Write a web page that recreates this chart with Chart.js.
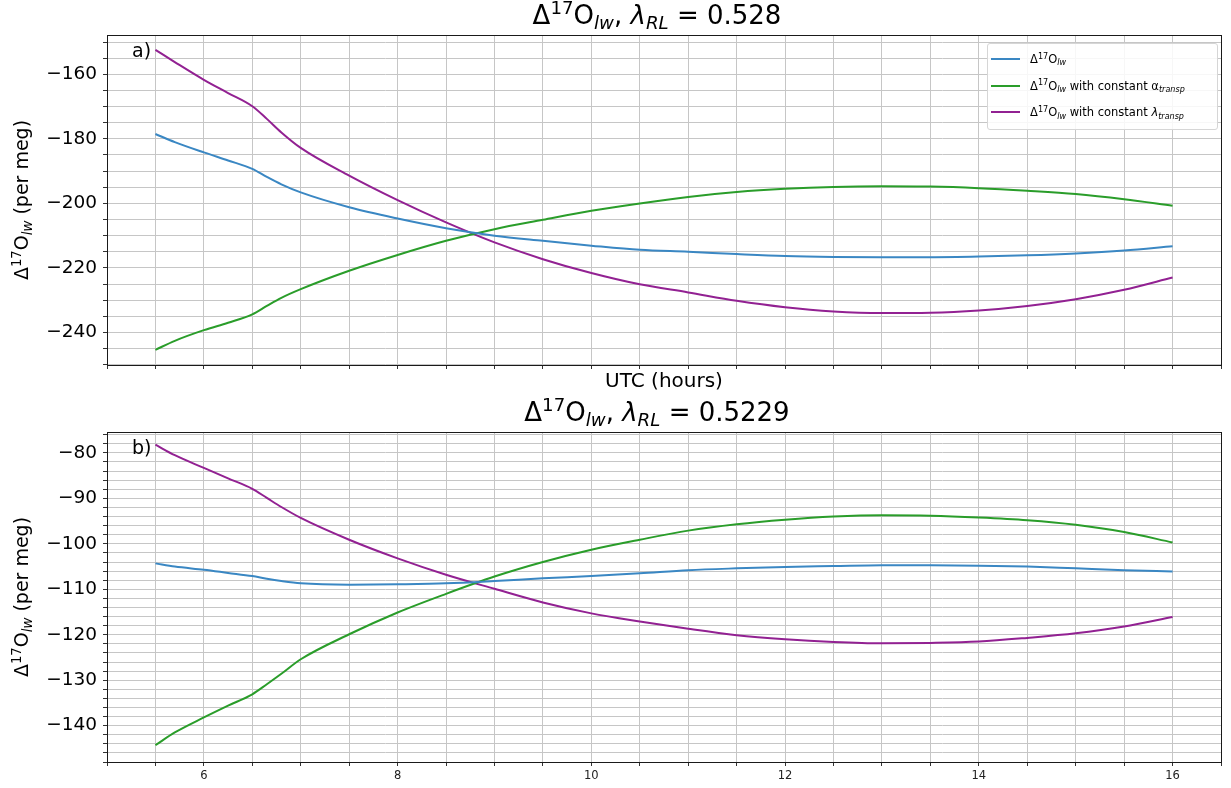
<!DOCTYPE html>
<html>
<head>
<meta charset="utf-8">
<script src="https://cdn.jsdelivr.net/npm/chart.js@4.4.0/dist/chart.umd.min.js"></script>
<style>
  body { margin:0; background:#fff; font-family:"DejaVu Sans", sans-serif; color:#000; }
  #wrap { position:relative; width:1231px; height:788px; overflow:hidden; }
  canvas { position:absolute; left:0; }
  .title { position:absolute; left:100px; width:1114px; text-align:center; font-size:26px; line-height:30px; white-space:nowrap; }
  .xlab { position:absolute; left:107px; width:1114px; text-align:center; font-size:20px; line-height:24px; }
  .ylab { position:absolute; font-size:19px; line-height:22px; white-space:nowrap; transform:translate(-50%,-50%) rotate(-90deg); }
  .tag { position:absolute; font-size:19px; line-height:22px; }
  .sp { font-size:70%; position:relative; top:-0.55em; }
  .sb { font-size:70%; position:relative; top:0.3em; font-style:italic; }
  .legend { position:absolute; left:987px; top:43px; width:229px; height:85px; border:1px solid #d6d6d6; border-radius:3px; background:rgba(255,255,255,0.85); font-size:11.5px; }
  .legend .row { position:absolute; left:0; height:20px; display:flex; align-items:center; white-space:nowrap; }
  .legend .sw { width:29px; height:2px; margin-left:3px; margin-right:10px; }
</style>
</head>
<body>
<div id="wrap">
  <canvas id="chartA" width="1231" height="400" style="top:0"></canvas>
  <canvas id="chartB" width="1231" height="388" style="top:400px"></canvas>

  <div class="title" style="top:0px">Δ<span class="sp">17</span>O<span class="sb">lw</span>, <i>λ</i><span class="sb">RL</span> = 0.528</div>
  <div class="title" style="top:397px">Δ<span class="sp">17</span>O<span class="sb">lw</span>, <i>λ</i><span class="sb">RL</span> = 0.5229</div>
  <div class="xlab" style="top:368px">UTC (hours)</div>
  <div class="ylab" style="left:22px; top:200px">Δ<span class="sp">17</span>O<span class="sb">lw</span> (per meg)</div>
  <div class="ylab" style="left:22px; top:597px">Δ<span class="sp">17</span>O<span class="sb">lw</span> (per meg)</div>
  <div class="tag" style="left:132px; top:39px">a)</div>
  <div class="tag" style="left:132px; top:436px">b)</div>
  <div class="legend" id="legendA"></div>
</div>

<script>
// hours (UTC)
const hours = [5.5, 5.7, 6, 6.25, 6.5, 6.65, 6.8, 7, 7.5, 8, 8.5, 9, 9.5, 10, 10.5, 11, 11.5, 12, 12.5, 13, 13.5, 14, 14.5, 15, 15.5, 16];

// a) lambda_RL = 0.528
const lwA     = [-178.5, -181.0, -184.2, -186.7, -189.3, -191.8, -194.1, -196.6, -201.2, -204.7, -207.7, -210.0, -211.6, -213.1, -214.4, -215.0, -215.7, -216.3, -216.6, -216.7, -216.7, -216.5, -216.1, -215.5, -214.6, -213.3];
const alphaA  = [-245.4, -242.6, -239.3, -237.0, -234.4, -231.8, -229.3, -226.6, -220.9, -216.0, -211.6, -208.0, -205.1, -202.3, -200.0, -198.0, -196.5, -195.5, -194.9, -194.7, -194.8, -195.3, -196.1, -197.1, -198.7, -200.7];
const lambdaA = [-152.4, -156.2, -161.7, -165.8, -169.9, -173.8, -178.0, -182.8, -191.4, -199.0, -205.9, -212.1, -217.3, -221.6, -225.1, -227.6, -230.2, -232.2, -233.5, -234.0, -233.9, -233.2, -231.8, -229.7, -226.8, -223.0];

// b) lambda_RL = 0.5229
const lwB     = [-104.3, -105.0, -105.7, -106.4, -107.1, -107.7, -108.2, -108.7, -109.0, -108.9, -108.7, -108.2, -107.6, -107.1, -106.5, -105.8, -105.4, -105.1, -104.9, -104.7, -104.7, -104.8, -105.0, -105.4, -105.8, -106.1];
const alphaB  = [-144.3, -141.5, -138.2, -135.6, -133.1, -130.9, -128.6, -125.4, -119.9, -115.1, -111.0, -107.2, -104.0, -101.3, -99.1, -97.1, -95.7, -94.7, -94.0, -93.7, -93.8, -94.2, -94.8, -95.8, -97.4, -99.7];
const lambdaB = [-78.2, -80.5, -83.3, -85.6, -87.9, -89.9, -91.9, -94.3, -99.1, -103.2, -106.8, -109.9, -112.9, -115.3, -117.1, -118.7, -120.1, -121.0, -121.6, -121.9, -121.8, -121.5, -120.7, -119.7, -118.2, -116.1];

const seriesNames = [
  'Δ<span class="sp">17</span>O<span class="sb">lw</span>',
  'Δ<span class="sp">17</span>O<span class="sb">lw</span> with constant α<span class="sb">transp</span>',
  'Δ<span class="sp">17</span>O<span class="sb">lw</span> with constant <i>λ</i><span class="sb">transp</span>'
];
const seriesColors = ["#3a87c3", "#2a9d2a", "#922192"];

const $ = (s) => document.querySelector(s);
const fmt = (v) => String(Math.abs(v) < 1e-9 ? 0 : v).replace("-", "\u2212");

// matplotlib-like frame on all four sides
const framePlugin = {
  id: "frame",
  afterDraw(chart) {
    const { ctx, chartArea: a } = chart;
    ctx.save();
    ctx.strokeStyle = "#1a1a1a";
    ctx.lineWidth = 1;
    ctx.strokeRect(Math.round(a.left) + 0.5, Math.round(a.top) + 0.5, Math.round(a.right - a.left), Math.round(a.bottom - a.top));
    ctx.restore();
  }
};

function makeChart(id, values, y, showX, pad) {
  const datasets = values.map((vals, i) => ({
    data: hours.map((h, j) => ({ x: h, y: vals[j] })),
    borderColor: seriesColors[i],
    borderWidth: 2,
    pointRadius: 0,
    cubicInterpolationMode: "monotone",
    fill: false
  }));
  return new Chart($(id), {
    type: "line",
    data: { datasets },
    plugins: [framePlugin],
    options: {
      responsive: false,
      animation: false,
      layout: { padding: pad },
      plugins: { legend: { display: false }, tooltip: { enabled: false } },
      scales: {
        x: {
          type: "linear", min: 5, max: 16.5,
          afterFit: (s) => { s.height = showX ? 20 : 10; },
          border: { display: false },
          grid: { color: "#c6c6c6", lineWidth: 1, tickLength: 4, tickColor: "#333" },
          ticks: {
            stepSize: 0.5, autoSkip: false, maxRotation: 0, minRotation: 0, includeBounds: false, padding: 3,
            color: "#222", font: { family: "DejaVu Sans", size: 11.5 },
            callback: (v) => (showX && Math.abs(v % 2) < 1e-6) ? String(v) : ""
          }
        },
        y: {
          min: y.min, max: y.max,
          afterFit: (s) => { s.width = 100; },
          border: { display: false },
          grid: { color: "#c6c6c6", lineWidth: 1, tickLength: 4, tickColor: "#333" },
          ticks: {
            stepSize: y.step, autoSkip: false, includeBounds: false, padding: 6,
            color: "#000", font: { family: "DejaVu Sans", size: 18.5 },
            callback: (v) => Math.abs(Math.round(v) % y.label) === 0 && Math.abs(v - Math.round(v)) < 1e-6 ? fmt(Math.round(v)) : ""
          }
        }
      }
    }
  });
}

makeChart("#chartA", [lwA, alphaA, lambdaA], { min: -250.1, max: -147.8, step: 5, label: 20 }, false,
  { left: 7, right: 10, top: 35, bottom: 25 });
makeChart("#chartB", [lwB, alphaB, lambdaB], { min: -148.0, max: -75.4, step: 2, label: 10 }, true,
  { left: 7, right: 10, top: 32, bottom: 6 });

$("#legendA").innerHTML = seriesNames.map((n, i) => `
  <div class="row" style="top:${5 + i * 26.7}px">
    <span class="sw" style="background:${seriesColors[i]}"></span><span>${n}</span>
  </div>`).join("");
</script>
</body>
</html>
